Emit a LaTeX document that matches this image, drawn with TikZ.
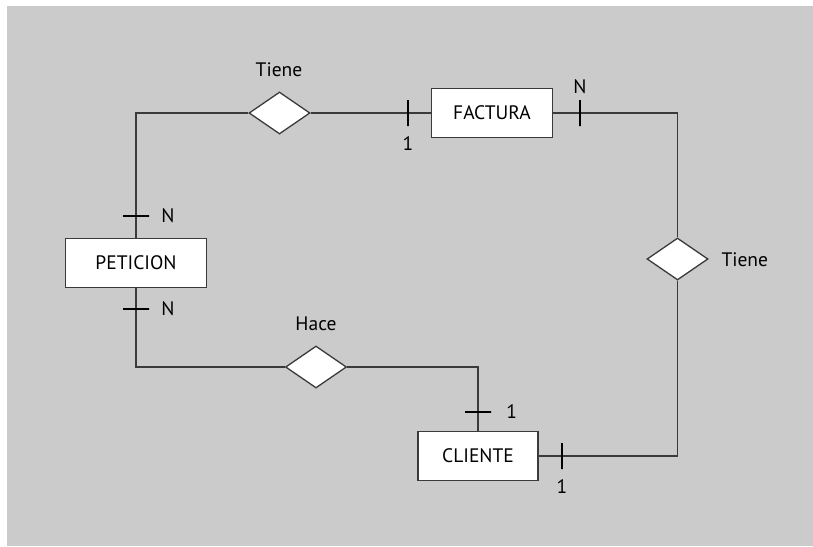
\documentclass[tikz,border=0pt]{standalone}
\usepackage{fontspec}
\setmainfont{PT Sans}
\usetikzlibrary{shapes.geometric}

\definecolor{fondo}{HTML}{CBCBCB}
\definecolor{trazo}{HTML}{3A3A3A}

\tikzset{
  entidad/.style={draw=trazo, line width=1.4pt, fill=white, rectangle,
    minimum width=#1, minimum height=49pt, inner sep=0pt},
  relacion/.style={draw=trazo, line width=1.3pt, fill=white, diamond,
    minimum width=61pt, minimum height=42pt, inner sep=0pt},
  linea/.style={draw=trazo, line width=1.1pt},
  marcav/.style={draw=black, line width=2.2pt, rectangle, inner sep=0pt,
    minimum width=0pt, minimum height=26pt},
  marcah/.style={draw=black, line width=2.2pt, rectangle, inner sep=0pt,
    minimum width=26pt, minimum height=0pt},
  card/.style={inner sep=0pt},
}

\begin{document}
\begin{tikzpicture}[x=1pt, y=-1pt, font=\fontsize{19.5}{22}\selectfont]
  \useasboundingbox (0,0) rectangle (813,546);
  \fill[fondo] (7,6) rectangle (813,546);

  % entidades
  \node[entidad=121pt] (factura) at (492,113) {FACTURA};
  \node[entidad=141pt] (peticion) at (136,263) {PETICION};
  \node[entidad=120pt] (cliente) at (478,456) {CLIENTE};

  % relaciones
  \node[relacion] (tiene1) at (279.5,113) {};
  \node[relacion] (hace) at (316,367) {};
  \node[relacion] (tiene2) at (677.5,259) {};
  \node at (279,70) {Tiene};
  \node at (316,324) {Hace};
  \node[anchor=west] at (718,260) {Tiene};

  % esquinas
  \coordinate (c1) at (136,113);
  \coordinate (c2) at (677.5,113);
  \coordinate (c3) at (677.5,456);
  \coordinate (c4) at (136,367);
  \coordinate (c5) at (478,367);

  % conexiones
  \path[linea] (peticion.north) -- (c1) -- (tiene1.west);
  \path[linea] (tiene1.east) -- (factura.west);
  \path[linea] (factura.east) -- (c2) -- (tiene2.north);
  \path[linea] (tiene2.south) -- (c3) -- (cliente.east);
  \path[linea] (peticion.south) -- (c4) -- (hace.west);
  \path[linea] (hace.east) -- (c5) -- (cliente.north);

  % cardinalidades
  \node[marcav] (m1) at (408,113) {};
  \node[card, below=9pt] at (m1.south) {1};
  \node[marcav] (m2) at (580,113) {};
  \node[card, above=5pt] at (m2.north) {N};
  \node[marcah] (m3) at (136,216) {};
  \node[card, right=11pt] at (m3.east) {N};
  \node[marcah] (m4) at (136,309) {};
  \node[card, right=11pt] at (m4.east) {N};
  \node[marcah] (m5) at (478,412) {};
  \node[card, right=14pt] at (m5.east) {1};
  \node[marcav] (m6) at (562,456) {};
  \node[card, below=9pt] at (m6.south) {1};
\end{tikzpicture}
\end{document}
